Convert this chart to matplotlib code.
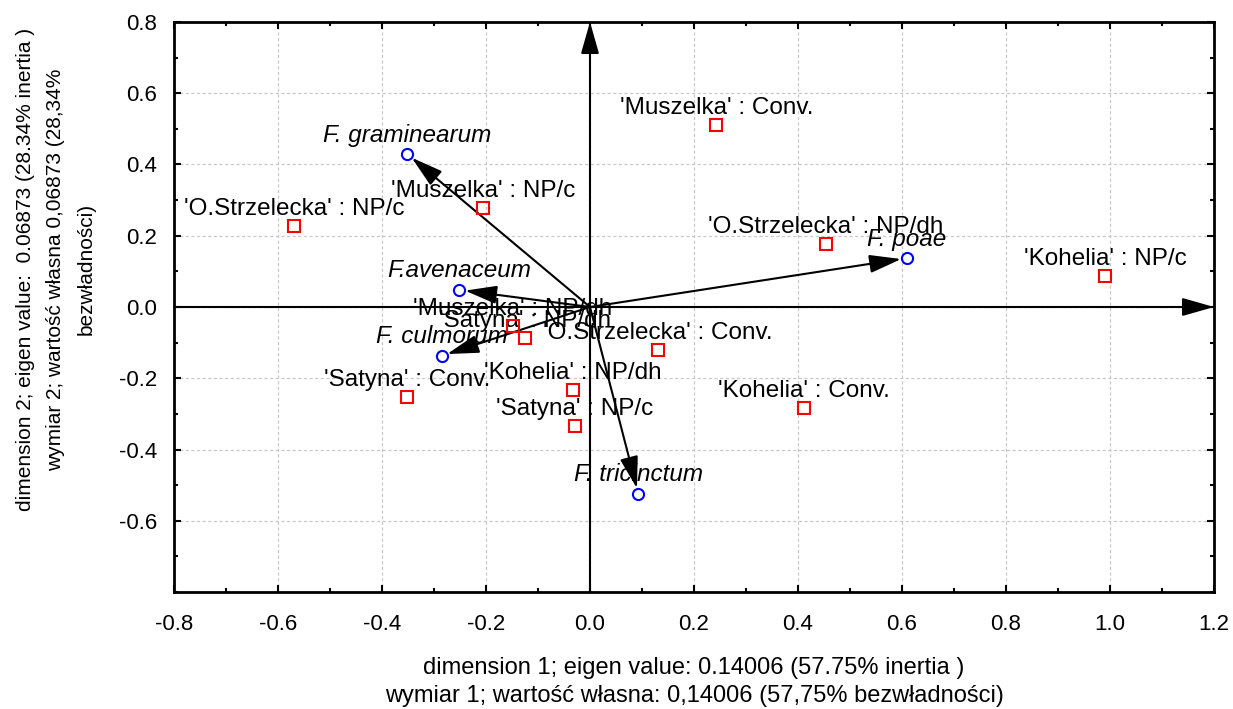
import matplotlib
matplotlib.use("Agg")
from matplotlib import pyplot as plt
from matplotlib.ticker import MultipleLocator

plt.rcParams['font.family'] = ['Liberation Sans', 'DejaVu Sans']

# row points (cultivar : system)
row_labels = ["'Muszelka' : Conv.", "'Muszelka' : NP/c", "'Muszelka' : NP/dh",
              "'O.Strzelecka' : Conv.", "'O.Strzelecka' : NP/c", "'O.Strzelecka' : NP/dh",
              "'Kohelia' : Conv.", "'Kohelia' : NP/c", "'Kohelia' : NP/dh",
              "'Satyna' : Conv.", "'Satyna' : NP/c", "'Satyna' : NP/dh"]
row_x = [0.243, -0.206, -0.148, 0.131, -0.569, 0.453, 0.411, 0.991, -0.033, -0.351, -0.029, -0.125]
row_y = [0.510, 0.277, -0.053, -0.120, 0.227, 0.176, -0.283, 0.087, -0.232, -0.252, -0.333, -0.087]

# column points (species)
col_labels = ["F. graminearum", "F.avenaceum", "F. culmorum", "F. poae", "F. tricinctum"]
col_x = [-0.351, -0.251, -0.285, 0.609, 0.093]
col_y = [0.429, 0.048, -0.137, 0.137, -0.524]

xlab = ("dimension 1; eigen value: 0.14006 (57.75% inertia )\n"
        "wymiar 1; wartość własna: 0,14006 (57,75% bezwładności)")
ylab = ("dimension 2; eigen value:  0.06873 (28.34% inertia )\n"
        "wymiar 2; wartość własna 0,06873 (28,34%\n"
        "bezwładności)")

fig = plt.figure(figsize=(12.33, 7.09), dpi=100)
ax = fig.add_axes([0.1411, 0.165, 0.8435, 0.804])
ax.set_xlim(-0.8, 1.2)
ax.set_ylim(-0.8, 0.8)

ax.xaxis.set_minor_locator(MultipleLocator(0.1))
ax.yaxis.set_minor_locator(MultipleLocator(0.1))
ax.set_xticks([-0.8, -0.6, -0.4, -0.2, 0.0, 0.2, 0.4, 0.6, 0.8, 1.0, 1.2])
ax.set_yticks([-0.6, -0.4, -0.2, 0.0, 0.2, 0.4, 0.6, 0.8])
ax.set_xticklabels(['%.1f' % v for v in ax.get_xticks()])
ax.set_yticklabels(['%.1f' % v for v in ax.get_yticks()])
ax.tick_params(which='both', direction='in', top=True, right=True, width=1.5, labelsize=16)
ax.tick_params(which='major', length=5)
ax.tick_params(axis='x', which='major', pad=16)
ax.tick_params(axis='y', which='major', pad=12)
ax.tick_params(which='minor', length=3)
ax.grid(True, which='major', color='#c8c8c8', linestyle=(0, (2.5, 2)), linewidth=0.9)
ax.set_axisbelow(True)
for s in ax.spines.values():
    s.set_linewidth(2)

head = dict(arrowstyle='-|>,head_length=0.7,head_width=0.2', color='black', lw=1.5,
            mutation_scale=28)

# axis arrows through origin
ax.annotate('', xy=(1.2, 0), xytext=(-0.8, 0),
            arrowprops=dict(head, shrinkA=0, shrinkB=0))
ax.annotate('', xy=(0, 0.8), xytext=(0, -0.8),
            arrowprops=dict(head, shrinkA=0, shrinkB=0))

# species vectors
for x, y in zip(col_x, col_y):
    ax.annotate('', xy=(x, y), xytext=(0, 0),
                arrowprops=dict(head, shrinkA=0, shrinkB=4))

ax.plot(row_x, row_y, 's', ms=8, mfc='none', mec='red', mew=1.5, zorder=5)
ax.plot(col_x, col_y, 'o', ms=8, mfc='none', mec='blue', mew=1.5, zorder=5)

for lab, x, y in zip(row_labels, row_x, row_y):
    ax.annotate(lab, (x, y), xytext=(0, 8), textcoords='offset points',
                ha='center', va='baseline', fontsize=17.5)
for lab, x, y in zip(col_labels, col_x, col_y):
    ax.annotate(lab, (x, y), xytext=(0, 9), textcoords='offset points',
                ha='center', va='baseline', fontsize=17.5, style='italic')

ax.set_xlabel(xlab, fontsize=17, labelpad=16, linespacing=1.3)
fig.text(0.045, 0.62, ylab, rotation=90, fontsize=15, ha='center', va='center',
         multialignment='center', linespacing=1.75)

fig.savefig('out.png', dpi=100)
